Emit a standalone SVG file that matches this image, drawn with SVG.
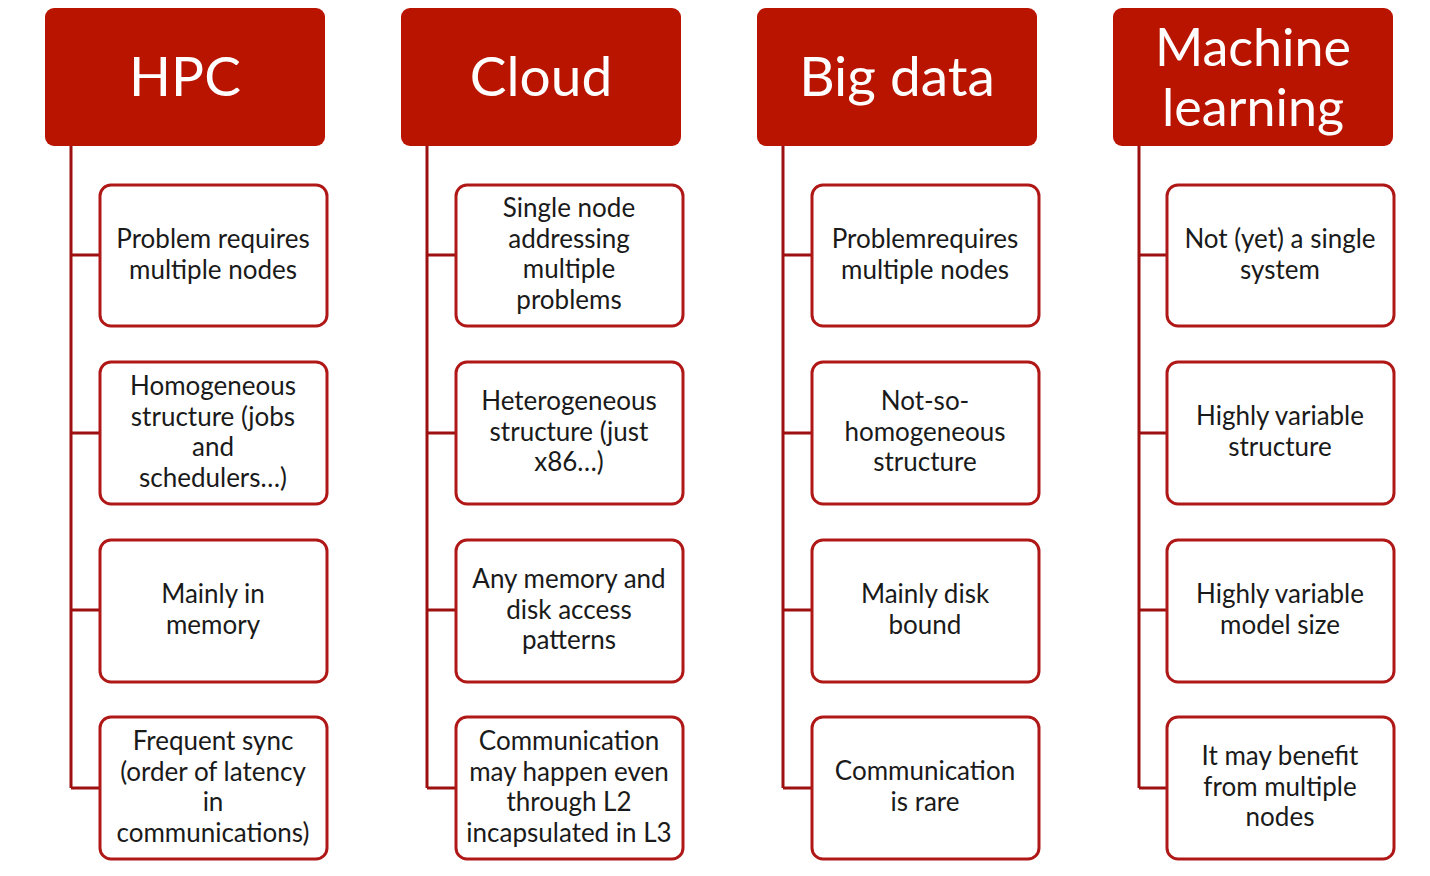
<svg xmlns="http://www.w3.org/2000/svg" width="1430" height="876" viewBox="0 0 1430 876">
<style>
.hdr{fill:#B91400;}
.ht{fill:#fff;font-family:Lato,"Open Sans",sans-serif;font-size:55px;text-anchor:middle;}
.box{fill:#fff;stroke:#B01818;stroke-width:3;}
.t{fill:#1a1a1a;font-family:Lato,"Open Sans",sans-serif;font-size:26px;text-anchor:middle;}
.c{fill:none;stroke:#9E1010;stroke-width:3;}
</style>
<rect width="1430" height="876" fill="#fff"/>
<g id="connectors">
<path class="c" d="M71 146V788M71 255H100M71 433H100M71 610H100M71 788H100"/>
<path class="c" d="M427 146V788M427 255H456M427 433H456M427 610H456M427 788H456"/>
<path class="c" d="M783 146V788M783 255H812M783 433H812M783 610H812M783 788H812"/>
<path class="c" d="M1139 146V788M1139 255H1167M1139 433H1167M1139 610H1167M1139 788H1167"/>
</g>
<g id="hpc"><rect class="hdr" x="45" y="8" width="280" height="138" rx="9"/><text class="ht" x="185" y="96">HPC</text></g>
<g id="cloud"><rect class="hdr" x="401" y="8" width="280" height="138" rx="9"/><text class="ht" x="541" y="96">Cloud</text></g>
<g id="bigdata"><rect class="hdr" x="757" y="8" width="280" height="138" rx="9"/><text class="ht" x="897" y="96">Big data</text></g>
<g id="ml"><rect class="hdr" x="1113" y="8" width="280" height="138" rx="9"/><text class="ht" x="1253" y="66" style="font-size:52px">Machine</text><text class="ht" x="1253" y="126" style="font-size:52px">learning</text></g>

<g id="hpc1"><rect class="box" x="100" y="185" width="227" height="141" rx="11"/><text class="t" x="213" y="248">Problem requires</text><text class="t" x="213" y="279">multiple nodes</text></g>
<g id="hpc2"><rect class="box" x="100" y="362" width="227" height="142" rx="11"/><text class="t" x="213" y="395">Homogeneous</text><text class="t" x="213" y="426">structure (jobs</text><text class="t" x="213" y="456">and</text><text class="t" x="213" y="487">schedulers…)</text></g>
<g id="hpc3"><rect class="box" x="100" y="540" width="227" height="142" rx="11"/><text class="t" x="213" y="603">Mainly in</text><text class="t" x="213" y="634">memory</text></g>
<g id="hpc4"><rect class="box" x="100" y="717" width="227" height="142" rx="11"/><text class="t" x="213" y="750">Frequent sync</text><text class="t" x="213" y="781">(order of latency</text><text class="t" x="213" y="811">in</text><text class="t" x="213" y="842">communications)</text></g>

<g id="cloud1"><rect class="box" x="456" y="185" width="227" height="141" rx="11"/><text class="t" x="569" y="217">Single node</text><text class="t" x="569" y="248">addressing</text><text class="t" x="569" y="278">multiple</text><text class="t" x="569" y="309">problems</text></g>
<g id="cloud2"><rect class="box" x="456" y="362" width="227" height="142" rx="11"/><text class="t" x="569" y="410">Heterogeneous</text><text class="t" x="569" y="441">structure (just</text><text class="t" x="569" y="471">x86…)</text></g>
<g id="cloud3"><rect class="box" x="456" y="540" width="227" height="142" rx="11"/><text class="t" x="569" y="588">Any memory and</text><text class="t" x="569" y="619">disk access</text><text class="t" x="569" y="649">patterns</text></g>
<g id="cloud4"><rect class="box" x="456" y="717" width="227" height="142" rx="11"/><text class="t" x="569" y="750">Communication</text><text class="t" x="569" y="781">may happen even</text><text class="t" x="569" y="811">through L2</text><text class="t" x="569" y="842">incapsulated in L3</text></g>

<g id="bd1"><rect class="box" x="812" y="185" width="227" height="141" rx="11"/><text class="t" x="925" y="248">Problemrequires</text><text class="t" x="925" y="279">multiple nodes</text></g>
<g id="bd2"><rect class="box" x="812" y="362" width="227" height="142" rx="11"/><text class="t" x="925" y="410">Not-so-</text><text class="t" x="925" y="441">homogeneous</text><text class="t" x="925" y="471">structure</text></g>
<g id="bd3"><rect class="box" x="812" y="540" width="227" height="142" rx="11"/><text class="t" x="925" y="603">Mainly disk</text><text class="t" x="925" y="634">bound</text></g>
<g id="bd4"><rect class="box" x="812" y="717" width="227" height="142" rx="11"/><text class="t" x="925" y="780">Communication</text><text class="t" x="925" y="811">is rare</text></g>

<g id="ml1"><rect class="box" x="1167" y="185" width="227" height="141" rx="11"/><text class="t" x="1280" y="248">Not (yet) a single</text><text class="t" x="1280" y="279">system</text></g>
<g id="ml2"><rect class="box" x="1167" y="362" width="227" height="142" rx="11"/><text class="t" x="1280" y="425">Highly variable</text><text class="t" x="1280" y="456">structure</text></g>
<g id="ml3"><rect class="box" x="1167" y="540" width="227" height="142" rx="11"/><text class="t" x="1280" y="603">Highly variable</text><text class="t" x="1280" y="634">model size</text></g>
<g id="ml4"><rect class="box" x="1167" y="717" width="227" height="142" rx="11"/><text class="t" x="1280" y="765">It may benefit</text><text class="t" x="1280" y="796">from multiple</text><text class="t" x="1280" y="826">nodes</text></g>
</svg>
